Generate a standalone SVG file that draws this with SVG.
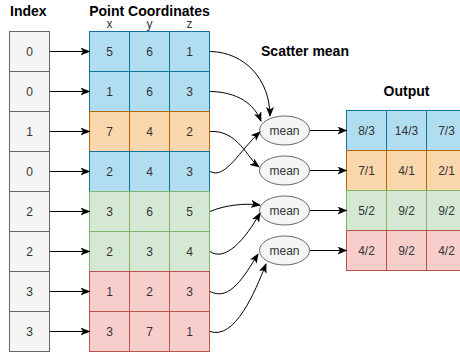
<svg xmlns="http://www.w3.org/2000/svg" width="460" height="352" viewBox="0 0 460 352">
  <defs>
    <style>
      .title { font-family: "Liberation Sans", Arial, sans-serif; font-size: 14px; font-weight: bold; fill: #000; }
      .lbl { font-family: "Liberation Sans", Arial, sans-serif; font-size: 12px; fill: #333; text-anchor: middle; }
      .axis { font-family: "Liberation Sans", Arial, sans-serif; font-size: 12px; fill: #333; text-anchor: middle; }
      .idx { fill: #f5f5f5; stroke: #666666; }
      .blue { fill: #b1ddf0; stroke: #10739e; }
      .orange { fill: #fad7ac; stroke: #b46504; }
      .green { fill: #d5e8d4; stroke: #82b366; }
      .red { fill: #f8cecc; stroke: #b85450; }
      .op { fill: #f5f5f5; stroke: #666666; }
      .edge { fill: none; stroke: #000; stroke-width: 1; marker-end: url(#arrow); }
    </style>
    <marker id="arrow" viewBox="0 0 10 8" refX="9" refY="4" markerWidth="10" markerHeight="8" markerUnits="userSpaceOnUse" orient="auto">
      <path d="M0,0 L10,4 L0,8 L2.5,4 z" fill="#000"/>
    </marker>
  </defs>

  <rect width="460" height="352" fill="#fff"/>

  <!-- headings -->
  <text class="title" x="10" y="15.5">Index</text>
  <text class="title" x="149.5" y="15.5" text-anchor="middle">Point Coordinates</text>
  <text class="axis" x="109.5" y="27.5">x</text>
  <text class="axis" x="149.5" y="27.5">y</text>
  <text class="axis" x="189.5" y="27.5">z</text>
  <text class="title" x="305" y="56" text-anchor="middle">Scatter mean</text>
  <text class="title" x="406.5" y="96" text-anchor="middle">Output</text>

  <!-- index column -->
  <g id="index">
    <rect class="idx" x="9.5" y="31.5" width="40" height="40"/><text class="lbl" x="29.5" y="56">0</text>
    <rect class="idx" x="9.5" y="71.5" width="40" height="40"/><text class="lbl" x="29.5" y="96">0</text>
    <rect class="idx" x="9.5" y="111.5" width="40" height="40"/><text class="lbl" x="29.5" y="136">1</text>
    <rect class="idx" x="9.5" y="151.5" width="40" height="40"/><text class="lbl" x="29.5" y="176">0</text>
    <rect class="idx" x="9.5" y="191.5" width="40" height="40"/><text class="lbl" x="29.5" y="216">2</text>
    <rect class="idx" x="9.5" y="231.5" width="40" height="40"/><text class="lbl" x="29.5" y="256">2</text>
    <rect class="idx" x="9.5" y="271.5" width="40" height="40"/><text class="lbl" x="29.5" y="296">3</text>
    <rect class="idx" x="9.5" y="311.5" width="40" height="40"/><text class="lbl" x="29.5" y="336">3</text>
  </g>

  <!-- point coordinates table -->
  <g id="points">
    <g id="p0">
      <rect class="blue" x="89.5" y="31.5" width="40" height="40"/><rect class="blue" x="129.5" y="31.5" width="40" height="40"/><rect class="blue" x="169.5" y="31.5" width="40" height="40"/>
      <text class="lbl" x="109.5" y="56">5</text><text class="lbl" x="149.5" y="56">6</text><text class="lbl" x="189.5" y="56">1</text>
    </g>
    <g id="p1">
      <rect class="blue" x="89.5" y="71.5" width="40" height="40"/><rect class="blue" x="129.5" y="71.5" width="40" height="40"/><rect class="blue" x="169.5" y="71.5" width="40" height="40"/>
      <text class="lbl" x="109.5" y="96">1</text><text class="lbl" x="149.5" y="96">6</text><text class="lbl" x="189.5" y="96">3</text>
    </g>
    <g id="p2">
      <rect class="orange" x="89.5" y="111.5" width="40" height="40"/><rect class="orange" x="129.5" y="111.5" width="40" height="40"/><rect class="orange" x="169.5" y="111.5" width="40" height="40"/>
      <text class="lbl" x="109.5" y="136">7</text><text class="lbl" x="149.5" y="136">4</text><text class="lbl" x="189.5" y="136">2</text>
    </g>
    <g id="p3">
      <rect class="blue" x="89.5" y="151.5" width="40" height="40"/><rect class="blue" x="129.5" y="151.5" width="40" height="40"/><rect class="blue" x="169.5" y="151.5" width="40" height="40"/>
      <text class="lbl" x="109.5" y="176">2</text><text class="lbl" x="149.5" y="176">4</text><text class="lbl" x="189.5" y="176">3</text>
    </g>
    <g id="p4">
      <rect class="green" x="89.5" y="191.5" width="40" height="40"/><rect class="green" x="129.5" y="191.5" width="40" height="40"/><rect class="green" x="169.5" y="191.5" width="40" height="40"/>
      <text class="lbl" x="109.5" y="216">3</text><text class="lbl" x="149.5" y="216">6</text><text class="lbl" x="189.5" y="216">5</text>
    </g>
    <g id="p5">
      <rect class="green" x="89.5" y="231.5" width="40" height="40"/><rect class="green" x="129.5" y="231.5" width="40" height="40"/><rect class="green" x="169.5" y="231.5" width="40" height="40"/>
      <text class="lbl" x="109.5" y="256">2</text><text class="lbl" x="149.5" y="256">3</text><text class="lbl" x="189.5" y="256">4</text>
    </g>
    <g id="p6">
      <rect class="red" x="89.5" y="271.5" width="40" height="40"/><rect class="red" x="129.5" y="271.5" width="40" height="40"/><rect class="red" x="169.5" y="271.5" width="40" height="40"/>
      <text class="lbl" x="109.5" y="296">1</text><text class="lbl" x="149.5" y="296">2</text><text class="lbl" x="189.5" y="296">3</text>
    </g>
    <g id="p7">
      <rect class="red" x="89.5" y="311.5" width="40" height="40"/><rect class="red" x="129.5" y="311.5" width="40" height="40"/><rect class="red" x="169.5" y="311.5" width="40" height="40"/>
      <text class="lbl" x="109.5" y="336">3</text><text class="lbl" x="149.5" y="336">7</text><text class="lbl" x="189.5" y="336">1</text>
    </g>
  </g>

  <!-- mean operators -->
  <g id="mean0"><ellipse class="op" cx="284.5" cy="130.5" rx="25" ry="14.5"/><text class="lbl" x="284.5" y="135">mean</text></g>
  <g id="mean1"><ellipse class="op" cx="284.5" cy="170.5" rx="25" ry="14.5"/><text class="lbl" x="284.5" y="175">mean</text></g>
  <g id="mean2"><ellipse class="op" cx="284.5" cy="210.5" rx="25" ry="14.5"/><text class="lbl" x="284.5" y="215">mean</text></g>
  <g id="mean3"><ellipse class="op" cx="284.5" cy="250.5" rx="25" ry="14.5"/><text class="lbl" x="284.5" y="255">mean</text></g>

  <!-- output table -->
  <g id="output">
    <g id="o0">
      <rect class="blue" x="346.5" y="110.5" width="40" height="40"/><rect class="blue" x="386.5" y="110.5" width="40" height="40"/><rect class="blue" x="426.5" y="110.5" width="40" height="40"/>
      <text class="lbl" x="366.5" y="135">8/3</text><text class="lbl" x="406.5" y="135">14/3</text><text class="lbl" x="446.5" y="135">7/3</text>
    </g>
    <g id="o1">
      <rect class="orange" x="346.5" y="150.5" width="40" height="40"/><rect class="orange" x="386.5" y="150.5" width="40" height="40"/><rect class="orange" x="426.5" y="150.5" width="40" height="40"/>
      <text class="lbl" x="366.5" y="175">7/1</text><text class="lbl" x="406.5" y="175">4/1</text><text class="lbl" x="446.5" y="175">2/1</text>
    </g>
    <g id="o2">
      <rect class="green" x="346.5" y="190.5" width="40" height="40"/><rect class="green" x="386.5" y="190.5" width="40" height="40"/><rect class="green" x="426.5" y="190.5" width="40" height="40"/>
      <text class="lbl" x="366.5" y="215">5/2</text><text class="lbl" x="406.5" y="215">9/2</text><text class="lbl" x="446.5" y="215">9/2</text>
    </g>
    <g id="o3">
      <rect class="red" x="346.5" y="230.5" width="40" height="40"/><rect class="red" x="386.5" y="230.5" width="40" height="40"/><rect class="red" x="426.5" y="230.5" width="40" height="40"/>
      <text class="lbl" x="366.5" y="255">4/2</text><text class="lbl" x="406.5" y="255">9/2</text><text class="lbl" x="446.5" y="255">4/2</text>
    </g>
  </g>

  <!-- connectors -->
  <g id="connectors">
    <!-- index to point rows -->
    <path class="edge" d="M50,51.5 H89.5"/>
    <path class="edge" d="M50,91.5 H89.5"/>
    <path class="edge" d="M50,131.5 H89.5"/>
    <path class="edge" d="M50,171.5 H89.5"/>
    <path class="edge" d="M50,211.5 H89.5"/>
    <path class="edge" d="M50,251.5 H89.5"/>
    <path class="edge" d="M50,291.5 H89.5"/>
    <path class="edge" d="M50,331.5 H89.5"/>
    <!-- point rows to mean operators -->
    <path class="edge" d="M210,51.5 C245,52 270,80 270,116"/>
    <path class="edge" d="M210,91.5 C238,92 254,104 261,121"/>
    <path class="edge" d="M210,131.5 C238,130 247,158 259,167"/>
    <path class="edge" d="M210,171.5 C225,180 240,150 260,132"/>
    <path class="edge" d="M210,211.5 C225,205 245,203 260,205"/>
    <path class="edge" d="M210,251.5 C225,262 245,240 260,213"/>
    <path class="edge" d="M210,291.5 C230,302 245,275 258,254"/>
    <path class="edge" d="M210,331.5 C235,340 255,292 266,264"/>
    <!-- mean operators to output rows -->
    <path class="edge" d="M310,130.5 H346.5"/>
    <path class="edge" d="M310,170.5 H346.5"/>
    <path class="edge" d="M310,210.5 H346.5"/>
    <path class="edge" d="M310,250.5 H346.5"/>
  </g>
</svg>
